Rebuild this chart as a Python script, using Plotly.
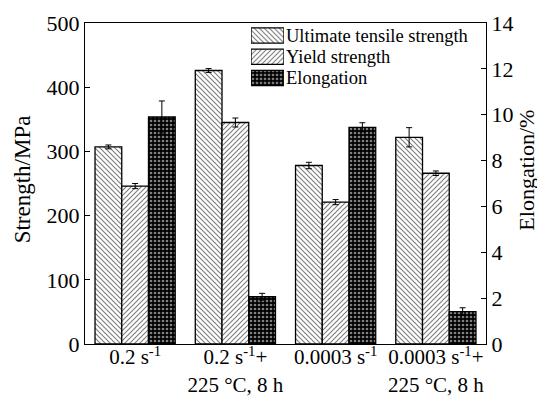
import math
import plotly.graph_objects as go

categories = ["0.2 s<sup>-1</sup>", "0.2 s<sup>-1</sup>+<br>225 °C, 8 h",
              "0.0003 s<sup>-1</sup>", "0.0003 s<sup>-1</sup>+<br>225 °C, 8 h"]
uts = [307, 426, 278, 322]
uts_err = [3, 3, 5, 15]
ys = [246, 345, 221, 266]
ys_err = [4, 7, 4, 3.5]
elong = [9.9, 2.06, 9.45, 1.41]
elong_err = [0.7, 0.15, 0.2, 0.17]
series_names = ["Ultimate tensile strength", "Yield strength", "Elongation"]
y_title = "Strength/MPa"
y2_title = "Elongation/%"

FONT = "Liberation Serif"
x = list(range(len(categories)))

tile = 5 / math.sqrt(2)  # gives a 5 px pattern tile
pat_uts = dict(shape="\\", fgcolor="black", bgcolor="white", size=tile, solidity=0.33)
pat_ys = dict(shape="/", fgcolor="black", bgcolor="white", size=tile, solidity=0.33)
pat_el = dict(shape=".", fgcolor="white", bgcolor="black", size=4, solidity=0.36)
patterns = [pat_uts, pat_ys, pat_el]

eb = dict(type="data", color="black", thickness=1, width=3)
outline = dict(color="black", width=1.3)

fig = go.Figure()
fig.add_trace(go.Bar(x=x, y=uts, error_y=dict(array=uts_err, **eb), name=series_names[0],
                     marker=dict(color="white", line=outline, pattern=pat_uts),
                     offsetgroup="1", alignmentgroup="g", showlegend=False))
fig.add_trace(go.Bar(x=x, y=ys, error_y=dict(array=ys_err, **eb), name=series_names[1],
                     marker=dict(color="white", line=outline, pattern=pat_ys),
                     offsetgroup="2", alignmentgroup="g", showlegend=False))
fig.add_trace(go.Bar(x=x, y=elong, error_y=dict(array=elong_err, **eb), name=series_names[2],
                     marker=dict(color="black", line=outline, pattern=pat_el),
                     offsetgroup="3", alignmentgroup="g", yaxis="y2", showlegend=False))

# custom legend patches (drawn as bars on a small helper axis)
for i, name in enumerate(series_names):
    fig.add_trace(go.Bar(x=[1], y=[i], orientation="h", width=0.72,
                         marker=dict(color="white", line=outline, pattern=patterns[i]),
                         xaxis="x3", yaxis="y3", showlegend=False, hoverinfo="skip"))
    fig.add_annotation(x=0.496, xref="paper", y=i, yref="y3", text=name, showarrow=False,
                       xanchor="left", yanchor="middle",
                       font=dict(family=FONT, size=18.5, color="black"))

# axis titles
fig.add_annotation(x=-63 / 401, xref="paper", y=0.513, yref="paper", text=y_title,
                   showarrow=False, textangle=-90, xanchor="center", yanchor="middle",
                   font=dict(family=FONT, size=23, color="black"))
fig.add_annotation(x=(527 - 85) / 401, xref="paper", y=0.54, yref="paper", text=y2_title,
                   showarrow=False, textangle=-90, xanchor="center", yanchor="middle",
                   font=dict(family=FONT, size=22, color="black"))

axis_common = dict(showline=True, linecolor="black", linewidth=1.3, ticks="inside",
                   ticklen=5, tickcolor="black", showgrid=False, zeroline=False,
                   tickfont=dict(family=FONT, size=22, color="black"))

# the page body has an 8 px margin, so the figure is made 8 px smaller and shifted
fig.update_layout(
    width=537, height=389,
    font=dict(family=FONT, color="black"),
    margin=dict(l=77, r=59, t=15, b=53, autoexpand=False),
    plot_bgcolor="white", paper_bgcolor="white",
    barmode="group", bargap=0.2, bargroupgap=0,
    xaxis=dict(tickmode="array", tickvals=x, ticktext=categories, range=[-0.5, 3.5],
               mirror=True, showline=True, linecolor="black", linewidth=1.3, ticks="",
               showgrid=False, zeroline=False, ticklabelstandoff=-6,
               tickfont=dict(family=FONT, size=21, color="black")),
    yaxis=dict(range=[0, 500], dtick=100, **axis_common),
    yaxis2=dict(range=[0, 14], dtick=2, overlaying="y", side="right", **axis_common),
    xaxis3=dict(domain=[0.414, 0.496], range=[0, 1], visible=False, fixedrange=True),
    yaxis3=dict(domain=[0.7956, 0.994], range=[2.5, -0.5], visible=False, fixedrange=True),
)

fig.write_html("out.html")
